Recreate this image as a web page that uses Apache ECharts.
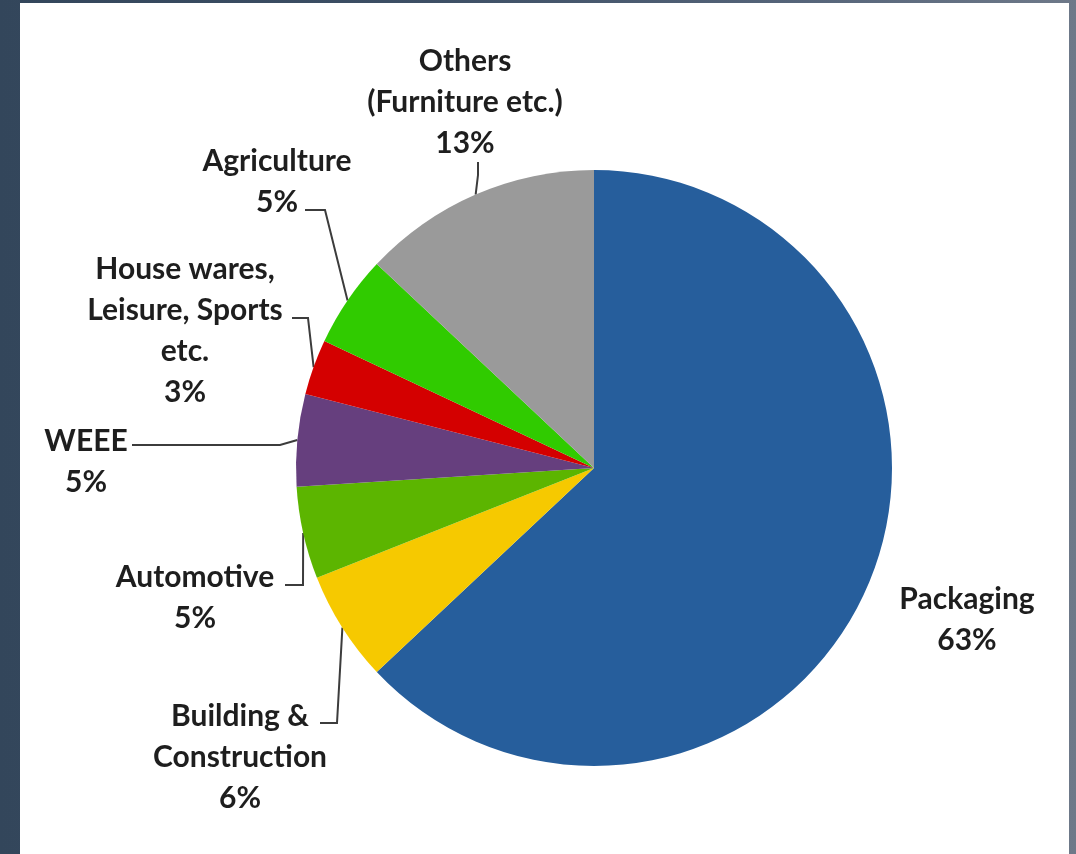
<!DOCTYPE html>
<html><head><meta charset="utf-8">
<script src="https://cdn.jsdelivr.net/npm/echarts@6/dist/echarts.min.js"></script>
<style>
html,body{margin:0;padding:0;width:1076px;height:854px;overflow:hidden;
background:linear-gradient(90deg,#33465b 0%,#3d4f65 40%,#56657a 75%,#6e7989 100%);}
#panel{position:absolute;left:20px;top:3px;width:1049px;height:851px;background:#ffffff;}
#chart{position:absolute;left:0;top:0;width:1076px;height:854px;}
</style></head>
<body><div id="panel"></div><div id="chart"></div>
<script>
// ---- data ----
const categories = ['Packaging', 'Building &\nConstruction', 'Automotive', 'WEEE',
  'House wares,\nLeisure, Sports\netc.', 'Agriculture', 'Others\n(Furniture etc.)'];
const values = [63, 6, 5, 5, 3, 5, 13];
const sliceColors = ['#265e9c', '#f6c900', '#5cb500', '#663f7e', '#d40000', '#30cb00', '#9a9a9a'];

// ---- label layout (page positions of label blocks and leader-line bends) ----
const labelLayouts = [
  { x: 967, y: 620 },
  { x: 240, y: 757, knee: [337, 723], end: [320, 723] },
  { x: 195, y: 598, knee: [303, 585], end: [285, 585] },
  { x: 86,  y: 462, knee: [280, 445], end: [132, 445] },
  { x: 185, y: 331, knee: [308, 318], end: [292, 318] },
  { x: 277, y: 182, knee: [325, 210], end: [305, 210] },
  { x: 465, y: 102, knee: [478, 175], end: [478, 162] }
];

const chart = echarts.init(document.getElementById('chart'), null, { renderer: 'canvas' });
const data = categories.map((name, i) => ({
  name: name,
  value: values[i],
  itemStyle: { color: sliceColors[i] },
  labelLine: { show: i !== 0 }
}));

chart.setOption({
  backgroundColor: 'transparent',
  animation: false,
  series: [{
    type: 'pie',
    center: [594, 468],
    radius: 298,
    startAngle: 90,
    clockwise: true,
    avoidLabelOverlap: false,
    silent: true,
    data: data,
    itemStyle: { borderWidth: 0 },
    label: {
      show: true,
      position: 'outside',
      formatter: '{b}\n{c}%',
      fontFamily: 'Lato',
      fontWeight: 'bold',
      fontSize: 30,
      lineHeight: 41,
      color: '#1e1e1e',
      align: 'center'
    },
    labelLine: {
      show: true,
      length: 10,
      length2: 10,
      smooth: false,
      lineStyle: { color: '#3c3c3c', width: 2 }
    },
    labelLayout: function (params) {
      const L = labelLayouts[params.dataIndex];
      const out = { x: L.x, y: L.y, align: 'center', verticalAlign: 'middle' };
      if (L.knee && params.labelLinePoints) {
        out.labelLinePoints = [params.labelLinePoints[0].slice(), L.knee.slice(), L.end.slice()];
      }
      return out;
    },
    emphasis: { disabled: true }
  }]
});
</script>
</body></html>
